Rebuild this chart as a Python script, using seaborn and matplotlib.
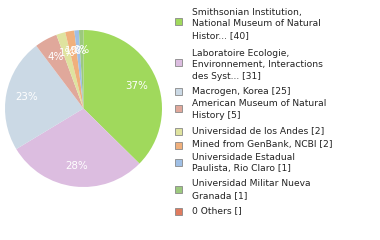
import matplotlib
matplotlib.use("Agg")
import matplotlib.pyplot as plt
import seaborn as sns
import math
from matplotlib.patches import Rectangle

labels = [
    "Smithsonian Institution,\nNational Museum of Natural\nHistor... [40]",
    "Laboratoire Ecologie,\nEnvironnement, Interactions\ndes Syst... [31]",
    "Macrogen, Korea [25]",
    "American Museum of Natural\nHistory [5]",
    "Universidad de los Andes [2]",
    "Mined from GenBank, NCBI [2]",
    "Universidade Estadual\nPaulista, Rio Claro [1]",
    "Universidad Militar Nueva\nGranada [1]",
    "0 Others []",
]
values = [40, 31, 25, 5, 2, 2, 1, 1]
colors = ["#a0d95c", "#dcbde0", "#cbd9e5", "#e0a89b", "#dfe39f",
          "#f0b07c", "#9fbfe5", "#9cc97e", "#e07b5e"]

sns.set_theme(style="white")
plt.rcParams['font.family'] = ['DejaVu Sans']

fig = plt.figure(figsize=(3.8, 2.4), dpi=100)
W, H = 380, 240
r = 78.5
cx, cy = 83.5, 108.5
ax = fig.add_axes([(cx - r) / W, 1 - (cy + r) / H, 2 * r / W, 2 * r / H])

def fmt(p):
    return "%d%%" % math.floor(p + 1e-9)

wedges, texts, autotexts = ax.pie(values, colors=colors[:len(values)], startangle=90,
                                  counterclock=False, autopct=fmt, pctdistance=0.74,
                                  radius=1.0, wedgeprops=dict(linewidth=0),
                                  textprops=dict(color="white", fontsize=7.4))
ax.set_xlim(-1, 1)
ax.set_ylim(-1, 1)
ax.set_aspect("equal")

entries_y = [21, 62, 91, 108, 131, 145, 162, 189, 211]
text_top = [12, 53, 91, 104, 131, 145, 157, 184, 211]
line_h = 11.8
for lab, col, sy, ty in zip(labels, colors, entries_y, text_top):
    fig.patches.append(Rectangle(((175) / W, 1 - (sy + 3.5) / H), 7 / W, 7 / H,
                                 transform=fig.transFigure, facecolor=col,
                                 edgecolor="#888888", linewidth=0.6))
    for i, line in enumerate(lab.split("\n")):
        fig.text(192 / W, 1 - (ty + i * line_h) / H, line, fontsize=6.6,
                 color="#222222", va="center", ha="left")

fig.savefig("out.png", dpi=100, facecolor="white")
